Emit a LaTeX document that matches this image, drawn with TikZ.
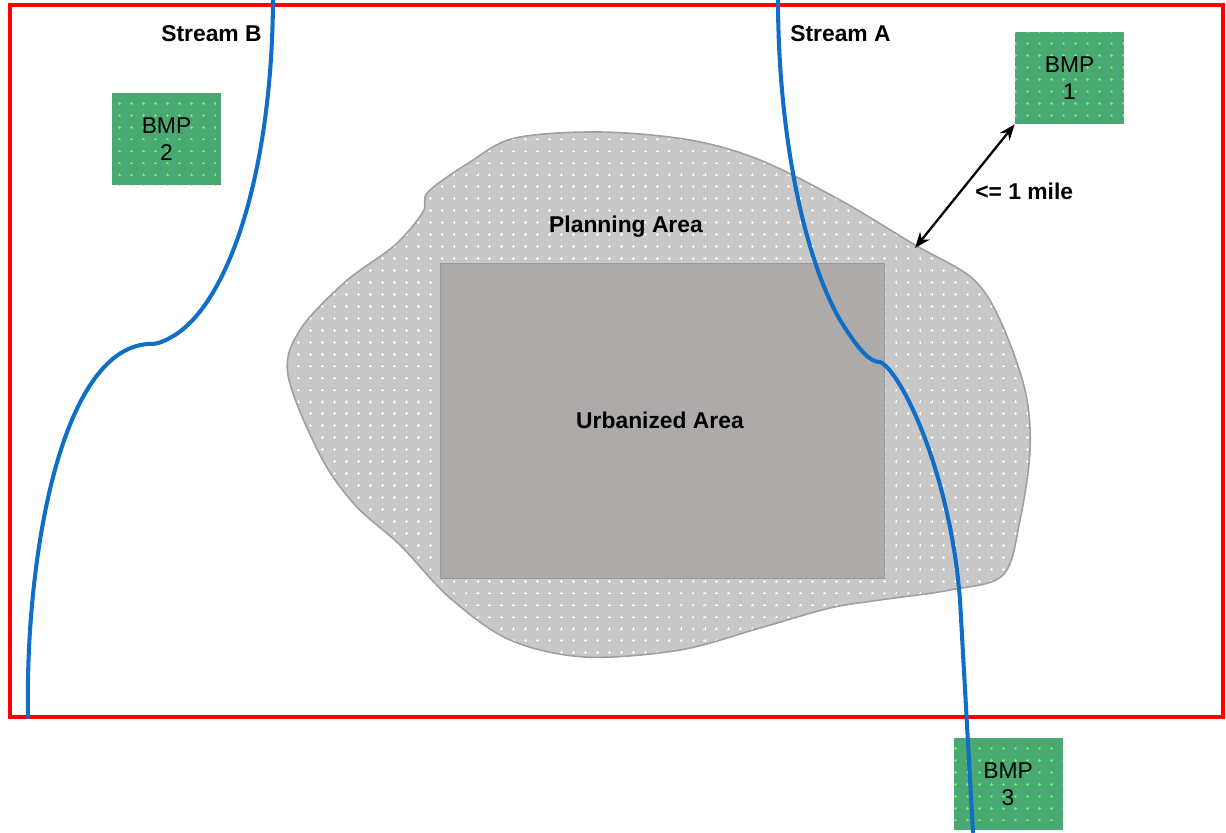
\documentclass[tikz,border=0pt]{standalone}
\usepackage{fontspec}
\setmainfont{Liberation Sans}
\usetikzlibrary{patterns,arrows.meta}
\pgfdeclarepatternformonly{plusdots}{\pgfqpoint{-1pt}{-1pt}}{\pgfqpoint{8pt}{8pt}}{\pgfqpoint{6.8pt}{6.8pt}}{%
  \pgfsetlinewidth{0.45pt}%
  \pgfpathmoveto{\pgfqpoint{-0.8pt}{0pt}}\pgfpathlineto{\pgfqpoint{0.8pt}{0pt}}%
  \pgfpathmoveto{\pgfqpoint{0pt}{-0.8pt}}\pgfpathlineto{\pgfqpoint{0pt}{0.8pt}}%
  \pgfusepath{stroke}}
\definecolor{frame}{HTML}{FF0000}
\definecolor{stream}{HTML}{0F6FC6}
\definecolor{bmpgreen}{HTML}{4AA872}
\definecolor{plangray}{HTML}{C8C8C8}
\definecolor{urbgray}{HTML}{AEAAAA}
\tikzset{
  bmpbox/.style={minimum width=109*0.02cm, minimum height=92*0.02cm, inner sep=0pt,
    preaction={fill=bmpgreen}, pattern=plusdots, pattern color=green!65!white,
    align=center, font=\fontsize{13}{15.5}\selectfont},
  lbl/.style={font=\fontsize{13}{15}\selectfont\bfseries, inner sep=0pt},
  river/.style={stream, line width=2.3pt, line cap=round},
}
\begin{document}
\begin{tikzpicture}[x=0.02cm, y=-0.02cm]
\useasboundingbox (0,0) rectangle (1226,832);
% planning area
\path[draw=gray!75, line width=0.9pt, preaction={fill=plangray}, pattern=plusdots, pattern color=white]
  plot[smooth cycle, tension=0.55] coordinates {
  (428,192) (470,162) (515,138) (600,132) (690,140) (760,160) (840,200) (915,245)
  (972,278) (1000,320) (1025,390) (1030,450) (1020,520) (1003,575) (950,590)
  (880,600) (830,608) (760,628) (680,650) (585,657) (510,640) (450,598)
  (400,545) (355,505) (320,455) (288,375) (300,330) (345,282) (395,245) (423,212)};
\node[lbl] (plan) at (626,227) {Planning Area};
% urbanized area
\node[draw=gray!80, fill=urbgray, minimum width=444*0.02cm, minimum height=315*0.02cm, inner sep=0pt, line width=0.4pt] (urb) at (662,420.5) {};
\node[lbl] (urbl) at (660,420) {Urbanized Area};
% frame
\draw[frame, line width=2.3pt] (10,5) rectangle (1223,717);
% BMP boxes
\node[bmpbox] (b1) at (1069.5,78) {BMP\\1};
\node[bmpbox] (b2) at (166.5,139) {BMP\\2};
\node[bmpbox] (b3) at (1008,784) {BMP\\3};
% streams
\coordinate (sa0) at (778,0);
\coordinate (sa1) at (973,832);
\draw[river] (sa0) .. controls (778,120) and (800,250) .. (840,320)
  .. controls (860,352) and (870,362) .. (880,362)
  .. controls (900,370) and (950,470) .. (960,600) -- (sa1);
\coordinate (sb0) at (273,0);
\coordinate (sb1) at (28,717);
\draw[river] (sb0) .. controls (272,170) and (230,300) .. (175,335)
  .. controls (160,344) and (155,344) .. (148,344)
  .. controls (60,350) and (25,560) .. (sb1);
\node[lbl, anchor=west] (sA) at (790,34) {Stream A};
\node[lbl, anchor=east] (sB) at (262,34) {Stream B};
% distance
\coordinate (pa) at (915,248);
\draw[{Stealth[length=9pt,width=7pt]}-{Stealth[length=9pt,width=7pt]}, line width=1.3pt] (pa) -- (b1.south west);
\node[lbl, anchor=west] (mile) at (975,191) {<= 1 mile};
\end{tikzpicture}
\end{document}
